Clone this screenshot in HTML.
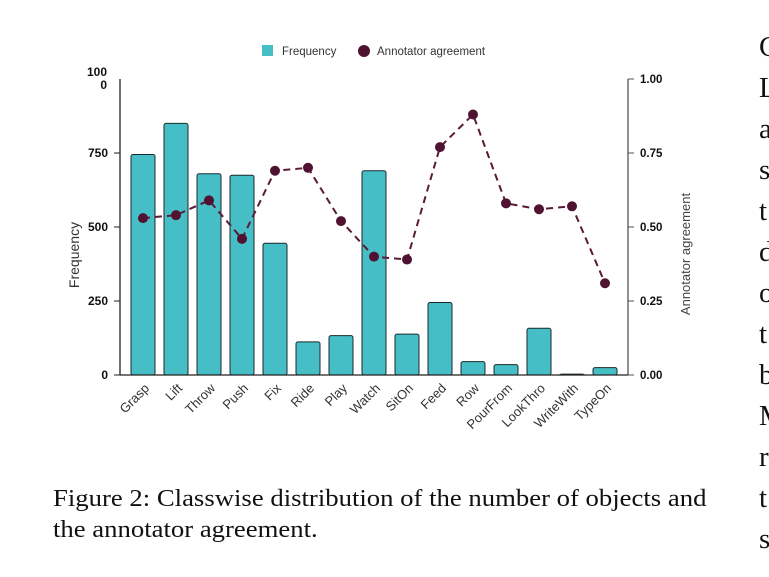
<!DOCTYPE html>
<html><head><meta charset="utf-8"><style>
html,body{margin:0;padding:0;background:#fff;}
body{width:769px;height:577px;position:relative;overflow:hidden;font-family:"Liberation Sans",sans-serif;}
.cap{position:absolute;left:53px;top:483px;font-family:"Liberation Serif",serif;font-size:24.5px;line-height:31px;color:#111;white-space:nowrap;transform:scaleX(1.09);transform-origin:0 0;}
.side{position:absolute;left:759px;top:27px;font-family:"Liberation Serif",serif;font-size:29px;line-height:41px;color:#111;}
</style></head><body>
<svg id="chart" width="769" height="480" style="position:absolute;left:0;top:0" xmlns="http://www.w3.org/2000/svg"></svg>
<div class="cap">Figure 2: Classwise distribution of the number of objects and<br>the annotator agreement.</div>
<div class="side">C<br>L<br>a<br>s<br>t<br>d<br>o<br>t<br>b<br>M<br>r<br>t<br>s</div>
<script>
const categories=["Grasp","Lift","Throw","Push","Fix","Ride","Play","Watch","SitOn","Feed","Row","PourFrom","LookThro","WriteWith","TypeOn"];
const frequency=[745,850,680,675,445,112,133,690,138,245,45,35,158,3,25];
const agreement=[0.53,0.54,0.59,0.46,0.69,0.70,0.52,0.40,0.39,0.77,0.88,0.58,0.56,0.57,0.31];
const leftTicks=[0,250,500,750];
const rightTicks=[0,0.25,0.5,0.75,1.0];
const NS="http://www.w3.org/2000/svg";
const svg=document.getElementById('chart');
const X0=120,X1=628,Y0=375,Y1=79;
const yL=v=>Y0-(v/1000)*(Y0-Y1);
const yR=v=>Y0-v*(Y0-Y1);
const step=33,first=143;
const xC=i=>first+i*step;
function mk(t,a){const e=document.createElementNS(NS,t);for(const k in a)e.setAttribute(k,a[k]);svg.appendChild(e);return e;}
frequency.forEach((v,i)=>{
 const r=mk('rect',{x:xC(i)-12,y:yL(v),width:24,height:Y0-yL(v),rx:2,fill:'#45bec6',stroke:'#1a2a2c','stroke-width':1});
 
 
 const t=mk('text',{x:xC(i)+7,y:Y0+14,'font-size':13,fill:'#333','text-anchor':'end',transform:`rotate(-45 ${xC(i)+7} ${Y0+14})`});
 t.textContent=categories[i];
 
 
});
let a=mk('line',{x1:X0,y1:Y1,x2:X0,y2:Y0,stroke:'#222','stroke-width':1.3});

a=mk('line',{x1:X1,y1:Y1,x2:X1,y2:Y0,stroke:'#555','stroke-width':1.3});

a=mk('line',{x1:X0,y1:Y0,x2:X1,y2:Y0,stroke:'#222','stroke-width':1.3});

leftTicks.forEach(v=>{
 mk('line',{x1:X0-6,y1:yL(v),x2:X0,y2:yL(v),stroke:'#222'});
 const t=mk('text',{x:X0-12,y:yL(v)+4,'font-size':12,'font-weight':'bold','text-anchor':'end',fill:'#111'});
 t.textContent=v;
 
 
});
let t=mk('text',{x:107,y:76,'font-size':12,'font-weight':'bold','text-anchor':'end',fill:'#111'});t.textContent='100';
t=mk('text',{x:107,y:89,'font-size':12,'font-weight':'bold','text-anchor':'end',fill:'#111'});t.textContent='0';
rightTicks.forEach(v=>{
 mk('line',{x1:X1,y1:yR(v),x2:X1+6,y2:yR(v),stroke:'#555'});
 const t=mk('text',{x:X1+12,y:yR(v)+4,'font-size':11.5,'font-weight':'bold',fill:'#111'});
 t.textContent=v.toFixed(2);
 
 
});
t=mk('text',{x:79,y:255,'font-size':14,fill:'#333','text-anchor':'middle',transform:'rotate(-90 79 255)'});t.textContent='Frequency';

t=mk('text',{x:690,y:254,'font-size':13,fill:'#444','text-anchor':'middle',transform:'rotate(-90 690 254)'});t.textContent='Annotator agreement';

const pts=agreement.map((v,i)=>xC(i)+','+yR(v)).join(' ');
const pl=mk('polyline',{points:pts,fill:'none',stroke:'#5b1a35','stroke-width':2,'stroke-dasharray':'7,5'});

agreement.forEach((v,i)=>{
 const c=mk('circle',{cx:xC(i),cy:yR(v),r:5,fill:'#4f1230'});
 
 
});
const g=mk('rect',{x:262,y:45,width:11,height:11,fill:'#45bec6'});

t=mk('text',{x:282,y:55,'font-size':11.5,fill:'#333'});t.textContent='Frequency';

const lc=mk('circle',{cx:364,cy:51,r:6,fill:'#4f1230'});

t=mk('text',{x:377,y:55,'font-size':11.5,fill:'#333'});t.textContent='Annotator agreement';

</script>
</body></html>
